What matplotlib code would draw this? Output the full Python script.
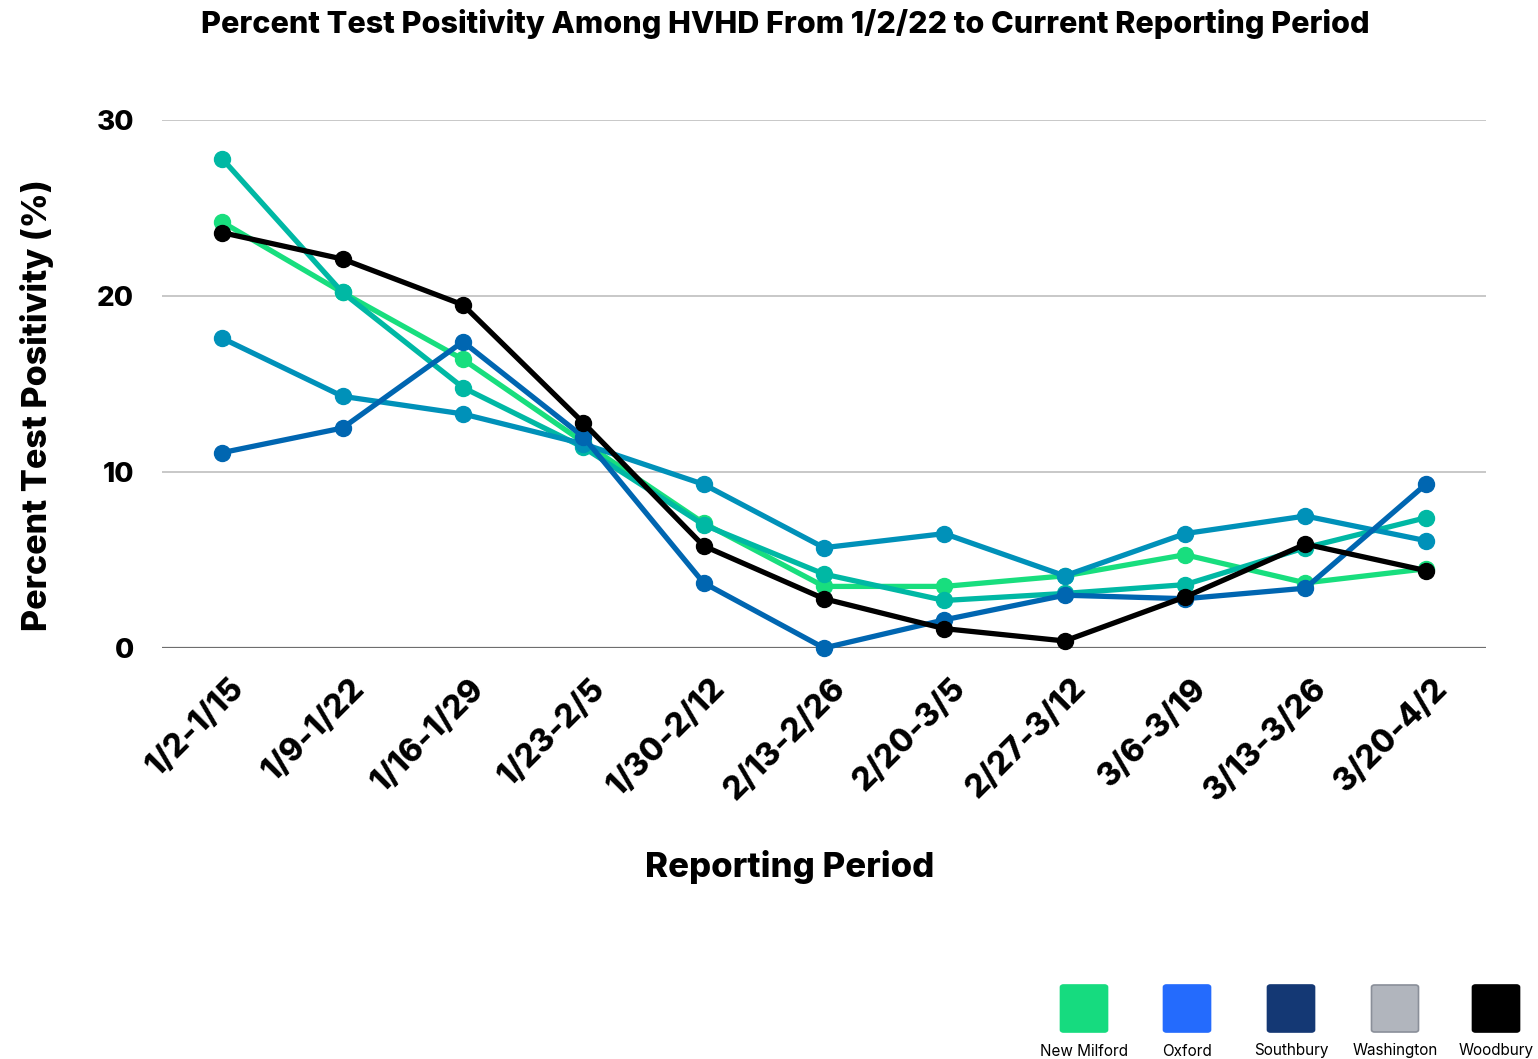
import matplotlib
matplotlib.use("Agg")
import matplotlib.pyplot as plt
from matplotlib.patches import FancyBboxPatch
import matplotlib.transforms as mtransforms

periods = ["1/2-1/15", "1/9-1/22", "1/16-1/29", "1/23-2/5", "1/30-2/12", "2/13-2/26",
           "2/20-3/5", "2/27-3/12", "3/6-3/19", "3/13-3/26", "3/20-4/2"]

new_milford = [24.2, 20.2, 16.4, 11.7, 7.1, 3.5, 3.5, 4.1, 5.3, 3.7, 4.5]
oxford      = [11.1, 12.5, 17.4, 12.0, 3.7, 0.0, 1.6, 3.0, 2.8, 3.4, 9.3]
southbury   = [17.6, 14.3, 13.3, 11.6, 9.3, 5.7, 6.5, 4.1, 6.5, 7.5, 6.1]
washington  = [27.8, 20.2, 14.8, 11.4, 7.0, 4.2, 2.7, 3.1, 3.6, 5.7, 7.4]
woodbury    = [23.6, 22.1, 19.5, 12.8, 5.8, 2.8, 1.1, 0.4, 2.9, 5.9, 4.4]

legend_names = ["New Milford", "Oxford", "Southbury", "Washington", "Woodbury"]
legend_colors = ["#16DB7F", "#246BFD", "#143874", "#B1B5BD", "#000000"]

yticks = [0, 10, 20, 30]

FONT = ["Inter", "DejaVu Sans"]
plt.rcParams['font.family'] = FONT

W, H = 1538, 1059
fig = plt.figure(figsize=(W/100, H/100), dpi=100)
ax = fig.add_axes([162/W, 1 - 648/H, (1486-162)/W, (648-120)/H])

series = [
    (new_milford, "#18DE7E"),
    (washington, "#00B8A4"),
    (southbury, "#0091B9"),
    (oxford, "#0066B1"),
    (woodbury, "#000000"),
]
x = list(range(len(periods)))
for vals, col in series:
    ax.plot(x, vals, color=col, lw=3.8, marker="o", markersize=11.5,
            solid_capstyle="round", zorder=3, clip_on=False)

ax.set_xlim(-0.5, len(periods) - 0.5)
ax.set_ylim(0, 30)
ax.set_yticks(yticks)
ax.set_yticklabels([str(t) for t in yticks], fontsize=20, fontweight="heavy")
for t in yticks[1:]:
    ax.axhline(t, color="#C4C4C4", lw=1.3, zorder=1)
ax.axhline(0, color="#6E6E6E", lw=1.6, zorder=1)
for s in ax.spines.values():
    s.set_visible(False)
ax.tick_params(axis="both", length=0)
ax.tick_params(axis="y", pad=20)
ax.set_xticks(x)
ax.set_xticklabels(periods, rotation=45, ha="right", va="top", rotation_mode="anchor",
                   fontsize=23, fontweight="heavy")
ax.tick_params(axis="x", pad=18)
offset = mtransforms.ScaledTranslation(6/100, 0, fig.dpi_scale_trans)
for lab in ax.get_xticklabels():
    lab.set_transform(lab.get_transform() + offset)

fig.text(37/W, 1 - 405/H, "Percent Test Positivity (%)", rotation=90,
         ha="center", va="center", fontsize=24.5, fontweight="heavy")
fig.text(790/W, 1 - 867/H, "Reporting Period", ha="center", va="center",
         fontsize=25, fontweight="heavy")

fig.text(785/W, 1 - 24/H, "Percent Test Positivity Among HVHD From 1/2/22 to Current Reporting Period",
         ha="center", va="center", fontsize=22, fontweight="heavy")

# legend (squares with labels beneath)
cx = [1084, 1187, 1291, 1395, 1496]
sq = 47
for name, col, c in zip(legend_names, legend_colors, cx):
    ec = "#8A8F99" if name == "Washington" else col
    r = FancyBboxPatch(((c - sq/2)/W, 1 - 1032/H), sq/W, sq/H,
                       boxstyle="round,pad=0,rounding_size=0.002",
                       transform=fig.transFigure, facecolor=col, edgecolor=ec, lw=1.2)
    fig.patches.append(r)
    fig.text(c/W, 1 - 1051/H, name, ha="center", va="center", fontsize=11)

fig.savefig("out.png", dpi=100)
